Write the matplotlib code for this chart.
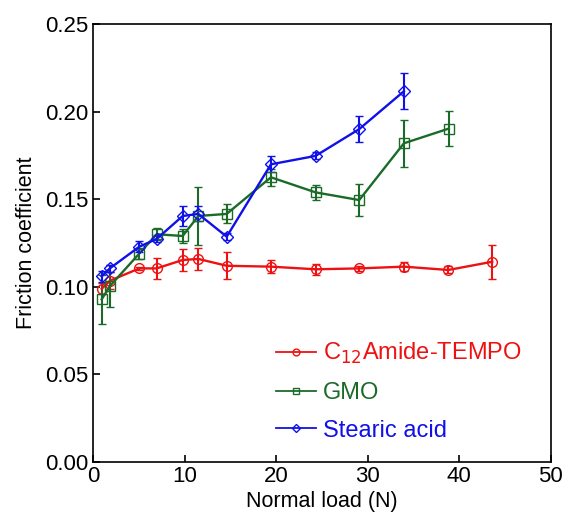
import matplotlib
matplotlib.use("Agg")
import matplotlib.pyplot as plt
from matplotlib.lines import Line2D

plt.rcParams['font.family'] = ['Liberation Sans', 'DejaVu Sans']

# Data
x_red = [0.95, 1.86, 5.06, 6.95, 9.79, 11.5, 14.6, 19.43, 24.3, 29.07, 33.95, 38.8, 43.6]
y_red = [0.0989, 0.1035, 0.1105, 0.1105, 0.1153, 0.1159, 0.112, 0.1115, 0.110, 0.1105, 0.1115, 0.1096, 0.1143]
e_red = [0.003, 0.005, 0.001, 0.0062, 0.006, 0.0065, 0.0078, 0.0038, 0.003, 0.0015, 0.0025, 0.002, 0.0097]

x_green = [0.95, 1.86, 5.06, 6.95, 9.79, 11.5, 14.6, 19.43, 24.3, 29.07, 33.95, 38.86]
y_green = [0.0929, 0.1005, 0.119, 0.130, 0.129, 0.1404, 0.1416, 0.1625, 0.1539, 0.1495, 0.1819, 0.1903]
e_green = [0.014, 0.012, 0.003, 0.0034, 0.004, 0.0168, 0.0054, 0.005, 0.0043, 0.0093, 0.0134, 0.0098]

x_blue = [0.95, 1.86, 5.06, 6.95, 9.79, 11.5, 14.6, 19.43, 24.3, 29.07, 33.95]
y_blue = [0.106, 0.1106, 0.1229, 0.1273, 0.1404, 0.1416, 0.1286, 0.1699, 0.1747, 0.190, 0.2116]
e_blue = [0.003, 0.002, 0.003, 0.002, 0.0055, 0.0043, 0.002, 0.0045, 0.002, 0.0074, 0.0103]

labels = ['C$_{12}$Amide-TEMPO', 'GMO', 'Stearic acid']
colors = ['#ee1111', '#1a6b28', '#1010e8']

x_ticks = [0, 10, 20, 30, 40, 50]
y_ticks = [0.00, 0.05, 0.10, 0.15, 0.20, 0.25]

fig = plt.figure(figsize=(5.65, 5.21), dpi=100)
ax = fig.add_axes([0.1646, 0.1132, 0.8104, 0.8408])

series = [(x_red, y_red, e_red, 'o'), (x_green, y_green, e_green, 's'), (x_blue, y_blue, e_blue, 'D')]
handles = []
for (xs, ys, es, m), c, lab in zip(series, colors, labels):
    ms = 7 if m != 'D' else 6
    ax.errorbar(xs, ys, yerr=es, color=c, marker=m, mfc='none', mec=c, ms=ms,
                mew=1.0, lw=1.7, elinewidth=1.5, capsize=3, capthick=1.5)
    handles.append(Line2D([], [], color=c, marker=m, mfc='none', mec=c,
                          ms=ms * 0.7, mew=1.0, lw=1.3, label=lab))

ax.set_xlim(0, 50)
ax.set_ylim(0, 0.25)
ax.set_xticks(x_ticks)
ax.set_yticks(y_ticks)
ax.set_xticklabels([str(v) for v in x_ticks])
ax.set_yticklabels(['%.2f' % v for v in y_ticks])
ax.tick_params(direction='in', length=5, width=1.2, labelsize=16, top=False, right=False, pad=3)
for s in ax.spines.values():
    s.set_linewidth(1.2)
ax.set_xlabel('Normal load (N)', fontsize=15.5, labelpad=3)
ax.set_ylabel('Friction coefficient', fontsize=15.5, labelpad=6)

leg = ax.legend(handles=handles, loc='lower left', frameon=False, fontsize=17,
                handlelength=1.7, handletextpad=0.3, labelspacing=0.66,
                bbox_to_anchor=(0.378, 0.025), borderaxespad=0)
for t, c in zip(leg.get_texts(), colors):
    t.set_color(c)

fig.savefig('out.png', dpi=100)
